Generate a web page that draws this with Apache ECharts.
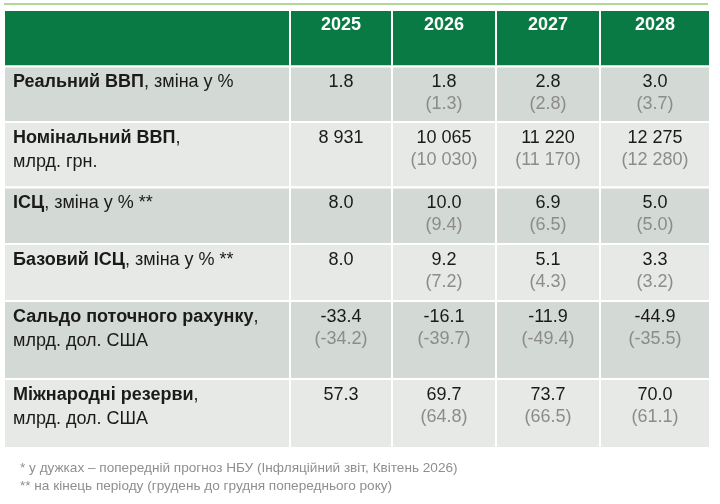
<!DOCTYPE html>
<html>
<head>
<meta charset="utf-8">
<script src="https://cdn.jsdelivr.net/npm/echarts@6/dist/echarts.min.js"></script>
<style>
  html, body { margin: 0; padding: 0; background: #ffffff; }
  #graph { width: 720px; height: 504px; }
</style>
</head>
<body>
<div id="graph"></div>
<script>
// forecast table data
var years = ['2025', '2026', '2027', '2028'];
var indicators = ['Реальний ВВП', 'Номінальний ВВП', 'ІСЦ', 'Базовий ІСЦ', 'Сальдо поточного рахунку', 'Міжнародні резерви'];
var units = [', зміна у %', ',\nмлрд. грн.', ', зміна у % **', ', зміна у % **', ',\nмлрд. дол. США', ',\nмлрд. дол. США'];

var realGdp = [1.8, 1.8, 2.8, 3.0];
var realGdpPrev = [null, 1.3, 2.8, 3.7];
var nominalGdp = [8931, 10065, 11220, 12275];
var nominalGdpPrev = [null, 10030, 11170, 12280];
var cpi = [8.0, 10.0, 6.9, 5.0];
var cpiPrev = [null, 9.4, 6.5, 5.0];
var coreCpi = [8.0, 9.2, 5.1, 3.3];
var coreCpiPrev = [null, 7.2, 4.3, 3.2];
var currentAccount = [-33.4, -16.1, -11.9, -44.9];
var currentAccountPrev = [-34.2, -39.7, -49.4, -35.5];
var reserves = [57.3, 69.7, 73.7, 70.0];
var reservesPrev = [null, 64.8, 66.5, 61.1];

var footnotes = [
    '* у дужках – попередній прогноз НБУ (Інфляційний звіт, Квітень 2026)',
    '** на кінець періоду (грудень до грудня попереднього року)'
];

var current = [realGdp, nominalGdp, cpi, coreCpi, currentAccount, reserves];
var previous = [realGdpPrev, nominalGdpPrev, cpiPrev, coreCpiPrev, currentAccountPrev, reservesPrev];

// layout of the table (axis units)
var colEdges = [0, 286, 388, 492, 596, 706];
var rowEdges = [0, 56.5, 112, 177.5, 234, 291, 369, 438];

var FONT = '"Liberation Sans", Arial, sans-serif';

function fmt(v, row) {
    if (v === null) return '';
    if (row === 1) {
        return String(v).replace(/\B(?=(\d{3})+(?!\d))/g, ' ');
    }
    return v.toFixed(1);
}

var cells = [];
for (var r = 0; r <= indicators.length; r++) {
    for (var c = 0; c <= years.length; c++) {
        cells.push([c, r]);
    }
}

function renderCell(params, api) {
    var c = api.value(0), r = api.value(1);
    var p0 = api.coord([colEdges[c], rowEdges[r]]);
    var p1 = api.coord([colEdges[c + 1], rowEdges[r + 1]]);
    var x = p0[0], y = p0[1], w = p1[0] - p0[0], h = p1[1] - p0[1];
    var fill;
    if (r === 0) fill = '#0a7a44';
    else fill = (r % 2 === 1) ? '#d3d9d4' : '#e6e9e6';

    var children = [{
        type: 'rect',
        shape: { x: x, y: y, width: w, height: h },
        style: { fill: fill, stroke: '#ffffff', lineWidth: 2 }
    }];

    if (r === 0 && c > 0) {
        children.push({
            type: 'text',
            style: {
                text: years[c - 1], x: x + w / 2, y: y + 15,
                align: 'center', verticalAlign: 'middle',
                font: 'bold 18px ' + FONT, fill: '#ffffff'
            }
        });
    } else if (r > 0 && c === 0) {
        children.push({
            type: 'text',
            style: {
                text: '{b|' + indicators[r - 1] + '}' + units[r - 1],
                x: x + 9, y: y + 4,
                align: 'left', verticalAlign: 'top',
                font: '18px ' + FONT, fill: '#1a1a1a', lineHeight: 24,
                rich: { b: { font: 'bold 18px ' + FONT, fill: '#1a1a1a', lineHeight: 24 } }
            }
        });
    } else if (r > 0) {
        var cur = current[r - 1][c - 1];
        var prev = previous[r - 1][c - 1];
        children.push({
            type: 'text',
            style: {
                text: fmt(cur, r - 1), x: x + w / 2, y: y + 16,
                align: 'center', verticalAlign: 'middle',
                font: '18px ' + FONT, fill: '#1a1a1a'
            }
        });
        if (prev !== null) {
            children.push({
                type: 'text',
                style: {
                    text: '(' + fmt(prev, r - 1) + ')', x: x + w / 2, y: y + 38,
                    align: 'center', verticalAlign: 'middle',
                    font: '18px ' + FONT, fill: '#8c8c8c'
                }
            });
        }
    }
    return { type: 'group', children: children };
}

var dom = document.getElementById('graph');
var chart = echarts.init(dom);

chart.setOption({
    animation: false,
    backgroundColor: '#ffffff',
    grid: { left: 4, right: 10, top: 10, bottom: 56 },
    xAxis: { type: 'value', min: 0, max: 706, show: false },
    yAxis: { type: 'value', min: 0, max: 438, inverse: true, show: false },
    graphic: [
        {
            type: 'rect', left: 4, top: 3,
            shape: { width: 704, height: 2 },
            style: { fill: '#b3d797' }
        },
        {
            type: 'text', left: 20, top: 461,
            style: { text: footnotes[0], font: '13.6px ' + FONT, fill: '#8f8f8f' }
        },
        {
            type: 'text', left: 20, top: 479,
            style: { text: footnotes[1], font: '13.6px ' + FONT, fill: '#8f8f8f' }
        }
    ],
    series: [{
        type: 'custom',
        renderItem: renderCell,
        data: cells,
        silent: true
    }]
});
</script>
</body>
</html>
